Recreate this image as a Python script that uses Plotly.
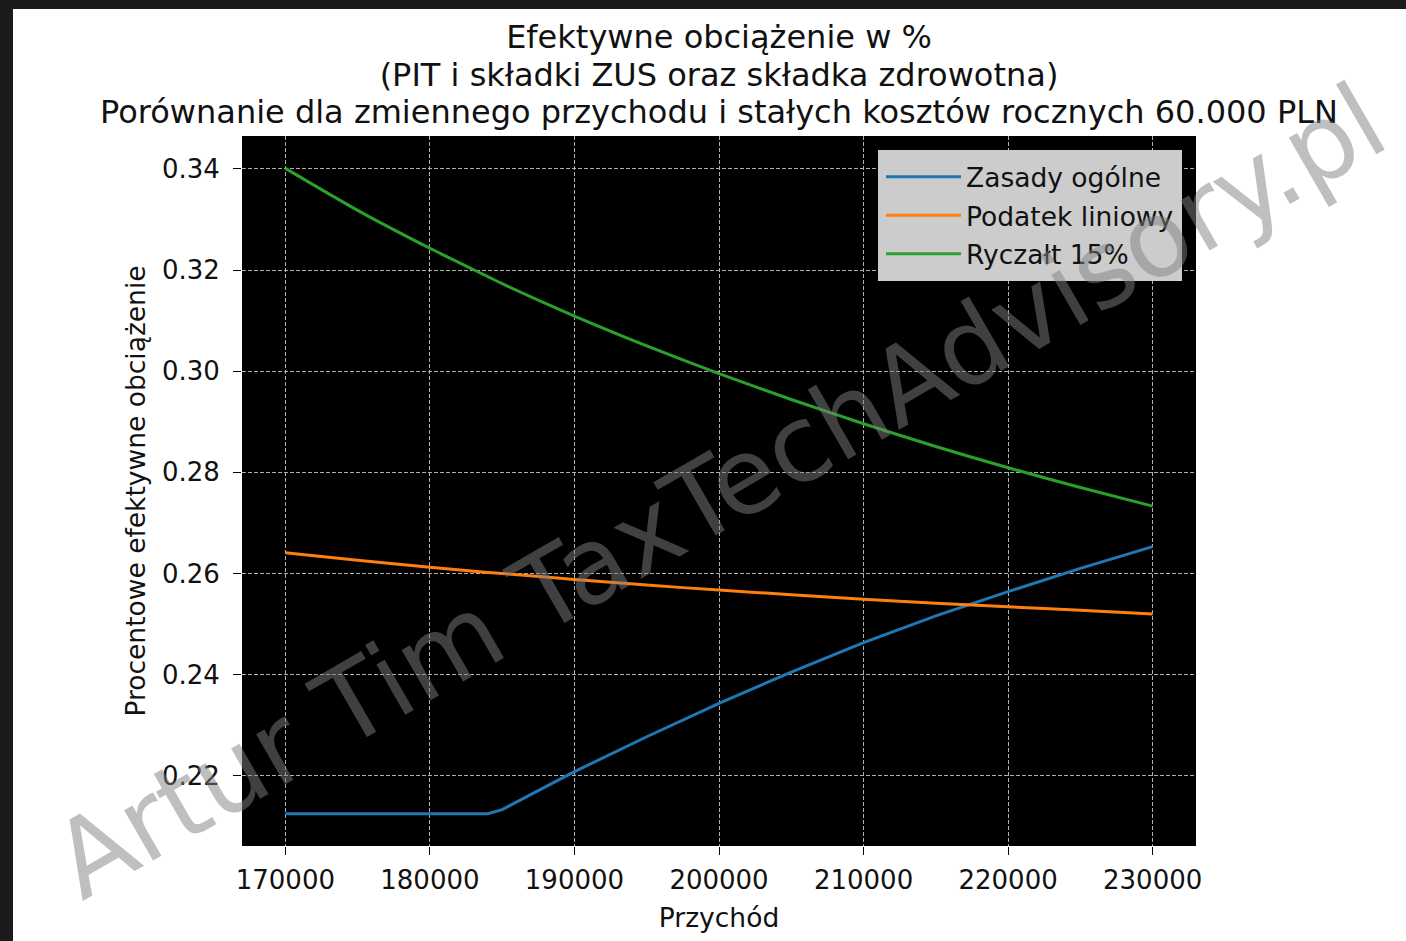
import plotly.graph_objects as go

# Revenue levels (PLN) with fixed annual costs of 60,000 PLN
przychod = [170000, 175000, 180000, 184000, 185000, 190000, 195000, 200000,
            205000, 210000, 215000, 220000, 225000, 230000]

# Effective burden (share of income) for each taxation form
zasady_ogolne = [0.2125, 0.2125, 0.2125, 0.2125, 0.2133, 0.2208, 0.2277, 0.2343,
                 0.2405, 0.2463, 0.2516, 0.2564, 0.2610, 0.2653]
podatek_liniowy = [0.2641, 0.2626, 0.2612, 0.2602, 0.2600, 0.2588, 0.2577, 0.2567,
                   0.2558, 0.2549, 0.2541, 0.2534, 0.2527, 0.2520]
ryczalt = [0.3401, 0.3318, 0.3243, 0.3187, 0.3173, 0.3109, 0.3050, 0.2995,
           0.2944, 0.2896, 0.2851, 0.2809, 0.2770, 0.2733]

x_ticks = [170000, 180000, 190000, 200000, 210000, 220000, 230000]
y_ticks = [0.22, 0.24, 0.26, 0.28, 0.30, 0.32, 0.34]

title_lines = [
    "Efektywne obciążenie w %",
    "(PIT i składki ZUS oraz składka zdrowotna)",
    "Porównanie dla zmiennego przychodu i stałych kosztów rocznych 60.000 PLN",
]
watermark = "Artur Tim TaxTechAdvisory.pl"

FONT = "DejaVu Sans"
W, H = 1406, 941
ML, MR, MT, MB = 242, 210, 136, 95
PW, PH = W - ML - MR, H - MT - MB


def px_x(px):
    return (px - ML) / PW


def px_y(py):
    return (H - MB - py) / PH


fig = go.Figure()
series = [
    ("Zasady ogólne", zasady_ogolne, "#1f77b4", "linear"),
    ("Podatek liniowy", podatek_liniowy, "#ff7f0e", "spline"),
    ("Ryczałt 15%", ryczalt, "#2ca02c", "spline"),
]
for name, vals, color, shape in series:
    fig.add_trace(go.Scatter(
        x=przychod, y=vals, mode="lines", name=name, legendgroup=name,
        line=dict(color=color, width=3, shape=shape, smoothing=0.6),
    ))

axis_common = dict(
    showgrid=True, gridcolor="#b0b0b0", gridwidth=1.2, griddash="4px,2px",
    zeroline=False, showline=False,
    ticks="outside", ticklen=8, tickwidth=1.4, tickcolor="#000",
    tickfont=dict(family=FONT, size=26, color="#111"),
    title_font=dict(family=FONT, size=26.5, color="#111"),
)
fig.update_xaxes(
    range=[167000, 233000], tickvals=x_ticks,
    ticktext=[str(v) for v in x_ticks], ticklabelstandoff=3,
    title_text="Przychód", title_standoff=14, **axis_common,
)
fig.update_yaxes(
    range=[0.2061, 0.3465], tickvals=y_ticks,
    ticktext=[f"{v:.2f}" for v in y_ticks], ticklabelstandoff=8,
    title_text="Procentowe efektywne obciążenie", title_standoff=8,
    **axis_common,
)

# three-line title: the outer font size sets the line pitch, the spans the glyph size
title_text = "<br>".join(
    f"<span style='font-size:32px'>{line}</span>" for line in title_lines
)

annotations = [dict(
    text=watermark, xref="paper", yref="paper", x=0.5, y=0.5,
    xanchor="center", yanchor="middle", showarrow=False, textangle=-30,
    font=dict(family=FONT, size=106, color="rgba(128,128,128,0.5)"),
)]

# dark frame strips along the top and left edge of the page
shapes = [
    dict(type="rect", xref="paper", yref="paper", layer="above",
         x0=px_x(0), x1=px_x(13), y0=px_y(H + 5), y1=px_y(-5),
         fillcolor="#1b1b1b", line=dict(width=0)),
    dict(type="rect", xref="paper", yref="paper", layer="above",
         x0=px_x(0), x1=px_x(W + 5), y0=px_y(9), y1=px_y(-5),
         fillcolor="#1b1b1b", line=dict(width=0)),
]

fig.update_layout(
    width=W, height=H,
    margin=dict(l=ML, r=MR, t=MT, b=MB),
    paper_bgcolor="white", plot_bgcolor="black",
    font=dict(family=FONT, color="#111"),
    title=dict(
        text=title_text, x=0.5, xref="paper", xanchor="center",
        y=1 - 48 / H, yref="container", yanchor="middle",
        font=dict(family=FONT, size=28.9, color="#111"),
    ),
    annotations=annotations, shapes=shapes,
    legend=dict(
        x=px_x(1182), xanchor="right", y=px_y(150), yanchor="top",
        bgcolor="#cccccc", bordercolor="#cccccc", borderwidth=3,
        font=dict(family=FONT, size=26.5, color="#111"),
        traceorder="grouped", tracegroupgap=1, itemwidth=75,
    ),
)

fig.write_html("out.html")
